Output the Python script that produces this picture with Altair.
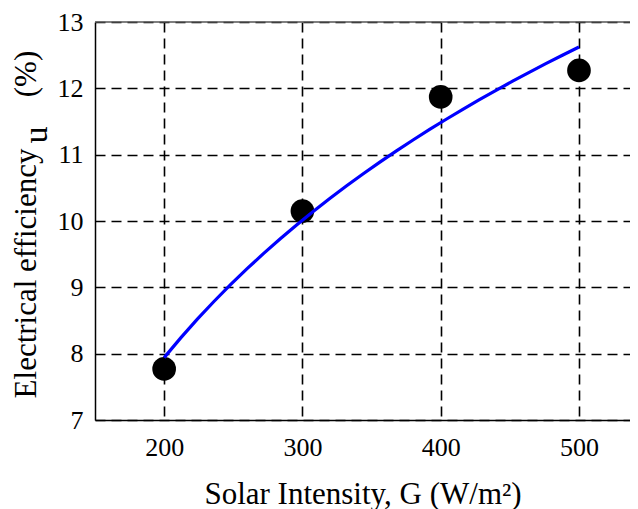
import altair as alt
import pandas as pd

# ---- data ----
intensity = [200, 300, 400, 500]
efficiency = [7.77, 10.15, 11.87, 12.27]
x_ticks = [200, 300, 400, 500]
y_ticks = [7, 8, 9, 10, 11, 12, 13]
x_domain = [150, 536.9]
y_domain = [7, 13]
top_border = [13]
y_title_main = "Electrical efficiency"
y_title_sub = ["u"]
y_title_unit = ["(%)"]
x_title = "Solar Intensity, G (W/m²)"

FONT = "Liberation Serif"

df = pd.DataFrame({"G": intensity, "eff": efficiency})

x_enc = alt.X(
    "G:Q",
    scale=alt.Scale(domain=x_domain, nice=False, zero=False),
    axis=alt.Axis(
        values=x_ticks, title=x_title, format="d",
        grid=True, gridColor="black", gridDash=[10, 6], gridWidth=1.6, gridOpacity=1,
        ticks=False, tickSize=0,
        domainColor="black", domainWidth=1.5,
        labelFont=FONT, labelFontSize=26, labelColor="black",
        labelBaseline="alphabetic", labelPadding=35, labelFlush=False,
        titleFont=FONT, titleFontSize=31, titleFontWeight="normal", titleColor="black",
        titleBaseline="alphabetic", titleY=83,
    ),
)
y_enc = alt.Y(
    "eff:Q",
    scale=alt.Scale(domain=y_domain, nice=False, zero=False),
    axis=alt.Axis(
        values=y_ticks, title=y_title_main, format="d",
        grid=True, gridColor="black", gridDash=[10, 6], gridWidth=1.6, gridOpacity=1,
        ticks=False, tickSize=0,
        domainColor="black", domainWidth=1.5,
        labelFont=FONT, labelFontSize=26, labelColor="black",
        labelBaseline="middle", labelPadding=12, labelFlush=False,
        titleFont=FONT, titleFontSize=31, titleFontWeight="normal", titleColor="black",
        titleAngle=270, titleAlign="center", titleBaseline="alphabetic",
        titleX=-60, titleY=251,
    ),
)

points = alt.Chart(df).mark_point(
    filled=True, color="black", size=560, opacity=1, shape="circle"
).encode(x=x_enc, y=y_enc)

fit = alt.Chart(df).transform_regression(
    "G", "eff", method="log"
).mark_line(color="#0000FF", strokeWidth=3.2).encode(x=x_enc, y=y_enc)

top = alt.Chart(pd.DataFrame({"eff": top_border})).mark_rule(
    color="#555555", strokeWidth=1.5
).encode(y=y_enc)

sub = alt.Chart(pd.DataFrame({"t": y_title_sub})).mark_text(
    font=FONT, fontSize=34, angle=270, align="center", baseline="alphabetic", color="black"
).encode(text="t:N", x=alt.value(-48), y=alt.value(113))

unit = alt.Chart(pd.DataFrame({"t": y_title_unit})).mark_text(
    font=FONT, fontSize=31, angle=270, align="center", baseline="alphabetic", color="black"
).encode(text="t:N", x=alt.value(-59), y=alt.value(52))

chart = alt.layer(points, fit, top, sub, unit).properties(
    width=535, height=398,
    autosize=alt.AutoSizeParams(type="none"),
    padding={"left": 87, "top": 14, "right": 0, "bottom": 89},
    background="white",
).configure(font=FONT).configure_axis(
    labelFont=FONT, titleFont=FONT
).configure_view(stroke=None)

chart.save("out.html", embed_options={"renderer": "svg", "actions": False})
